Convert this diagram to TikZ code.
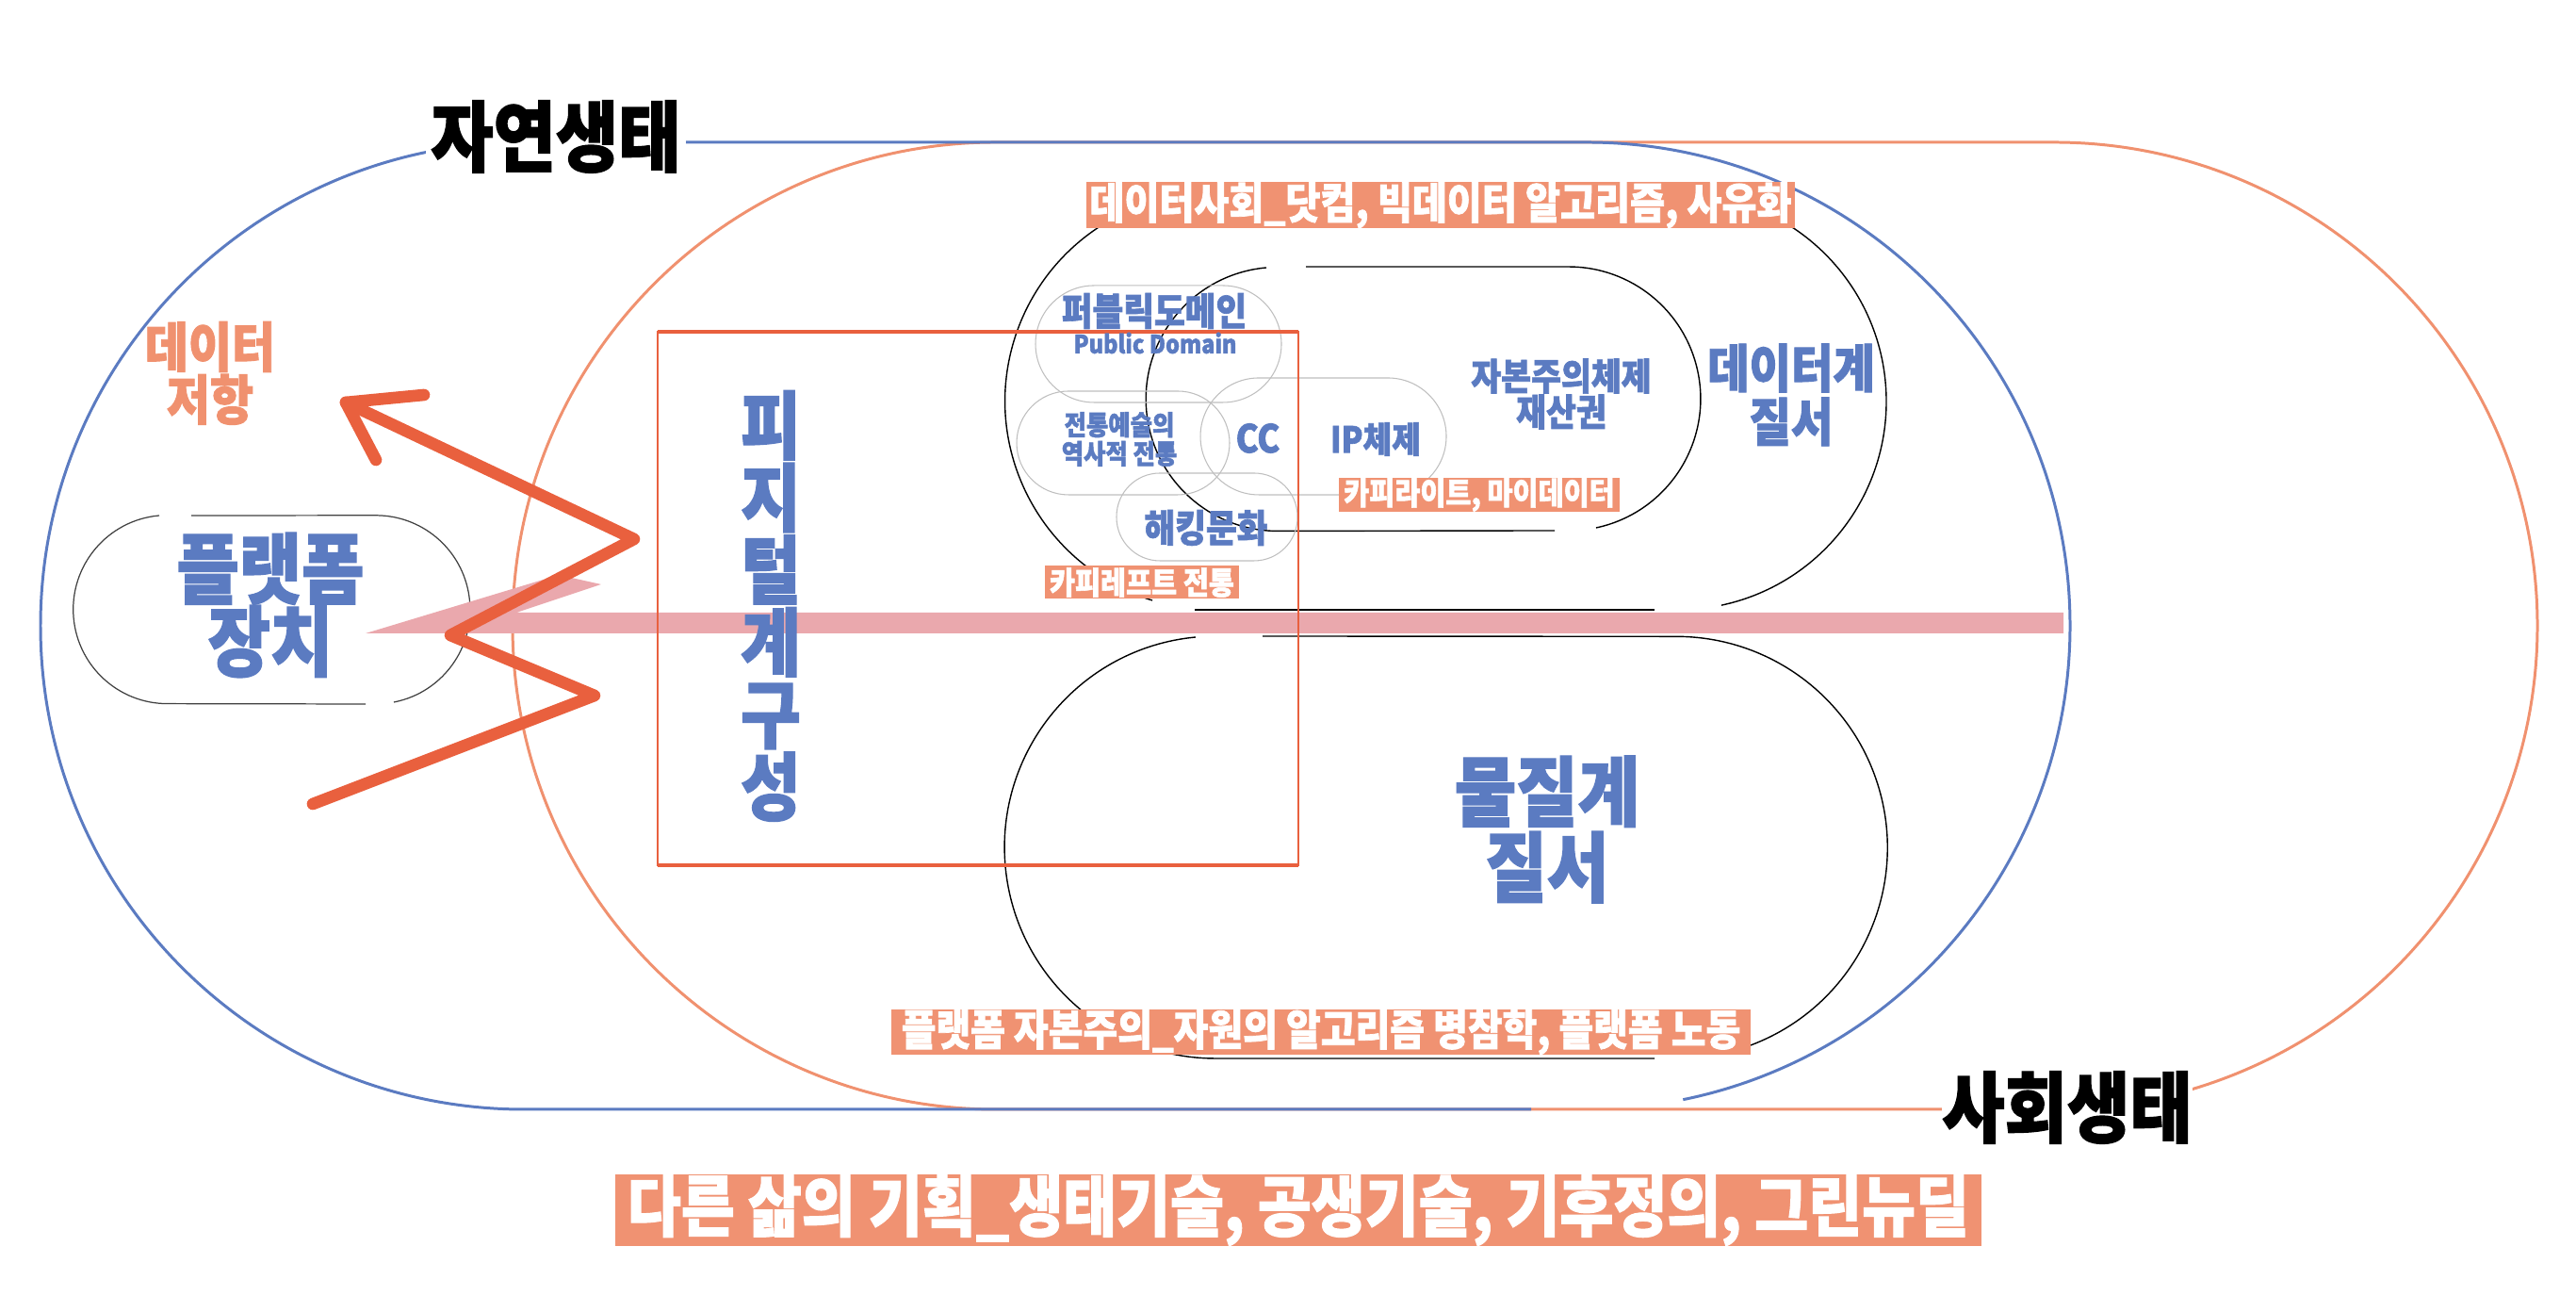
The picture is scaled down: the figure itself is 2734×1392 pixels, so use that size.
\documentclass[tikz,border=0pt]{standalone}
\usepackage{fontspec}
\usepackage{tikz}
\setmainfont{Noto Sans CJK KR}[FakeStretch=0.88,FakeBold=1.6]
\definecolor{natblue}{HTML}{5B7BC1}
\definecolor{salmon}{HTML}{F0916F}
\definecolor{tagfill}{HTML}{F09272}
\definecolor{redline}{HTML}{E9603E}
\definecolor{pinkbar}{HTML}{EAA8AD}
\newcommand{\fsz}[2]{\fontsize{#1}{#2}\selectfont}

\begin{document}
\begin{tikzpicture}[x=0.01cm,y=0.01cm,
	ecoline/.style={line width=0.85pt},
	thinblack/.style={black,line width=0.4pt},
	faint/.style={black!25,line width=0.3pt},
	bluetext/.style={text=natblue,inner sep=0pt,align=center},
	tag/.style={fill=tagfill,text=white,inner sep=0pt},
	brush/.style={redline,line width=3.6pt,line cap=round,line join=round}]
	\useasboundingbox (0,0) rectangle (2734,1392);
	% two ecologies
	\draw[ecoline,salmon] (2063,215) -- (1057,215) arc[start angle=270,end angle=90,radius=513] -- (2180,1241) arc[start angle=90,end angle=-77,radius=513];
	\draw[ecoline,natblue] (1625,215) -- (556,215) arc[start angle=270,end angle=90,radius=513] -- (1684,1241) arc[start angle=90,end angle=-78.5,radius=513];
	% data order
	\draw[thinblack] (1223,755) arc[start angle=253,end angle=90,radius=221] -- (1781,1187) arc[start angle=90,end angle=-78,radius=221];
	\draw[thinblack] (1268,745) -- (1756,745);
	\draw[thinblack] (1344,1108) arc[start angle=95,end angle=270,radius=140] -- (1650,829);
	\draw[thinblack] (1694,832) arc[start angle=-78,end angle=90,radius=140] -- (1386,1109);
	% material order
	\draw[thinblack] (1269,716) arc[start angle=95.4,end angle=270,radius=224] -- (1756,269);
	\draw[thinblack] (1858,283) arc[start angle=-69.4,end angle=90,radius=224] -- (1340,717);
	% commons
	\draw[faint,rounded corners=0.62cm] (1099,965) rectangle (1360,1089);
	\draw[faint,rounded corners=0.55cm] (1079,867) rectangle (1305,977);
	\draw[faint,rounded corners=0.62cm] (1274,867) rectangle (1535,991);
	\draw[faint,rounded corners=0.46cm] (1185,797) rectangle (1377,890);
	% platform
	\draw[black!75,line width=0.35pt] (169,845) arc[start angle=95,end angle=270,radius=100] -- (388,645);
	\draw[black!75,line width=0.35pt] (418,647) arc[start angle=-79,end angle=90,radius=100] -- (203,845);
	\fill[pinkbar] (388,720) -- (593,782) -- (638,772) -- (548,742) -- (2190,742) -- (2190,720) -- cycle;
	% phygital box
	\draw[redline,line width=0.45pt] (698,474) rectangle (1378,1040);
	\draw[redline,line width=1.4pt] (698,1040) -- (1378,1040);
	\draw[redline,line width=1.4pt] (698,474) -- (1378,474);
	% resistance arrow
	\coordinate (z0) at (332,539);
	\coordinate (z1) at (631,654);
	\coordinate (z2) at (478,718);
	\coordinate (z3) at (673,820);
	\coordinate (tip) at (367,965);
	\coordinate (barbA) at (450,973);
	\coordinate (barbB) at (399,904);
	\draw[brush] (z0) -- (z1) -- (z2) -- (z3) -- (tip);
	\draw[brush] (barbA) -- (tip) -- (barbB);

	\node[fill=white,inner xsep=1.5pt,inner ysep=0pt,font=\bfseries\fsz{23.3pt}{24pt}] (nature) at (590,1247) {자연생태};
	\node[fill=white,inner sep=0pt,font=\bfseries\fsz{23.3pt}{24pt}] (social) at (2194,217) {사회생태};
	\node[text=salmon,inner sep=0pt,align=center,font=\bfseries\fsz{16.2pt}{15.9pt}] (resist) at (223,996) {데이터\\저항};
	\node[bluetext,font=\bfseries\fsz{23.3pt}{21.9pt}] (platform) at (287,750) {플랫폼\\장치};
	\node[bluetext,font=\bfseries\fsz{22.4pt}{21.8pt}] (phygital) at (818,749) {피\\지\\털\\계\\구\\성};
	\node[bluetext,font=\bfseries\fsz{11.5pt}{12pt}] (pubdomain) at (1225,1062) {퍼블릭도메인};
	\node[bluetext,font=\bfseries\fsz{7.6pt}{10pt}] (pubdomainen) at (1226,1028) {Public Domain};
	\node[bluetext,font=\bfseries\fsz{8.2pt}{7.7pt}] (tradition) at (1188,926) {전통예술의\\역사적 전통};
	\node[bluetext,font=\bfseries\fsz{11.7pt}{12pt}] (cc) at (1335,927) {CC};
	\node[bluetext,font=\bfseries\fsz{10.8pt}{12pt}] (ip) at (1460,926) {IP체제};
	\node[bluetext,font=\bfseries\fsz{11.2pt}{10.8pt}] (capital) at (1657,974) {자본주의체제\\재산권};
	\node[bluetext,font=\bfseries\fsz{15.6pt}{16.2pt}] (dataorder) at (1901,973) {데이터계\\질서};
	\node[bluetext,font=\bfseries\fsz{11.5pt}{12pt}] (hacking) at (1280,832) {해킹문화};
	\node[bluetext,font=\bfseries\fsz{23pt}{22.8pt}] (matterorder) at (1642,512) {물질계\\질서};
	\node[tag,minimum width=2.97cm,minimum height=0.35cm,font=\bfseries\fsz{9.5pt}{10pt}] (copyright) at (1570,867) {카피라이트, 마이데이터};
	\node[tag,minimum width=2.05cm,minimum height=0.35cm,font=\bfseries\fsz{9.5pt}{10pt}] (copyleft) at (1212,774) {카피레프트 전통};
	\node[tag,minimum width=7.52cm,minimum height=0.47cm,font=\bfseries\fsz{13pt}{13pt}] (datasociety) at (1529,1174) {데이터사회\_닷컴, 빅데이터 알고리즘, 사유화};
	\node[tag,minimum width=9.11cm,minimum height=0.46cm,font=\bfseries\fsz{12.9pt}{13pt}] (platcapital) at (1402,297) {플랫폼 자본주의\_자원의 알고리즘 병참학, 플랫폼 노동};
	\node[tag,minimum width=14.49cm,minimum height=0.73cm,font=\bfseries\fsz{20pt}{21pt}] (otherlife) at (1378,108) {다른 삶의 기획\_생태기술, 공생기술, 기후정의, 그린뉴딜};
\end{tikzpicture}
\end{document}
